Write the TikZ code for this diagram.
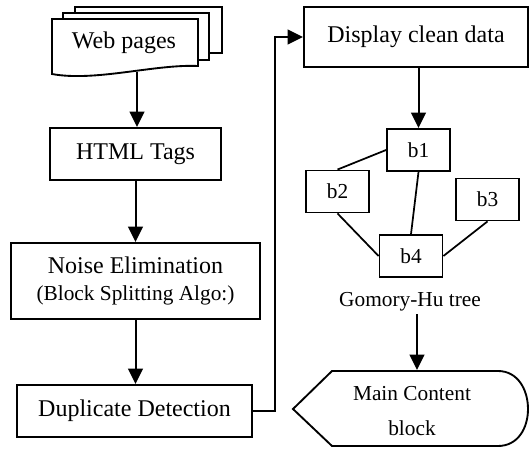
\documentclass[tikz,border=0pt]{standalone}
\usepackage{fontspec}
\setmainfont{Liberation Serif}
\usetikzlibrary{arrows.meta}
\tikzset{
  boxnode/.style={draw, line width=1.4pt, inner sep=0pt, align=center, font=\fontsize{18}{21}\selectfont},
  bnode/.style={draw, line width=1.4pt, inner sep=0pt, minimum width=47.25pt, minimum height=31.5pt, font=\fontsize{16}{19}\selectfont},
  arr/.style={line width=1.5pt, -{Triangle[length=11.5pt,width=11pt]}},
  edge/.style={line width=1.3pt},
  sheet/.style={draw, line width=1.4pt, fill=white},
}
\begin{document}
\begin{tikzpicture}[x=0.75pt,y=-0.75pt]
\useasboundingbox (0,0) rectangle (529,449);
% Web pages multi-document
\draw[sheet] (75,7) rectangle (222,53);
\draw[sheet] (63,13) rectangle (209,60);
\draw[sheet] (52,19) -- (198,19) -- (198,66) .. controls (155,64) and (95,82) .. (52,74) -- cycle;
\node[font=\fontsize{18}{21}\selectfont] (web) at (124,43) {Web pages};
\coordinate (webbot) at (137,72.5);
% left column
\node[boxnode, minimum width=128.25pt, minimum height=39pt] (html) at (135.5,154) {HTML Tags};
\node[boxnode, minimum width=186.75pt, minimum height=57pt] (noise) at (135.5,281)
  {Noise Elimination\\[-1pt]{\fontsize{16}{19}\selectfont (Block Splitting Algo:)}};
\node[boxnode, minimum width=176.25pt, minimum height=39pt] (dup) at (134.5,411) {Duplicate Detection};
% right column
\node[boxnode, minimum width=168pt, minimum height=45pt] (disp) at (416,37) {Display clean data};
\node[bnode] (b1) at (418.5,150) {b1};
\node[bnode] (b2) at (337.5,191.5) {b2};
\node[bnode] (b3) at (487.5,199.5) {b3};
\node[bnode] (b4) at (411,256) {b4};
\node[font=\fontsize{16}{19}\selectfont, inner sep=2pt] (gh) at (410,302) {Gomory-Hu tree};
% Main content display shape
\draw[line width=1.4pt] (293,409) -- (332,371) -- (498,371)
  .. controls (518,371) and (528,390) .. (528,409)
  .. controls (528,428) and (518,446) .. (498,446) -- (332,446) -- cycle;
\node[font=\fontsize{16}{26}\selectfont, align=center] (mc) at (412,411) {Main Content\\block};
\coordinate (mctop) at (417,370);
\coordinate (turn) at (275,411);
% connectors
\draw[arr] (webbot) -- (webbot |- html.north);
\draw[arr] (html.south -| noise.north) -- (noise.north);
\draw[arr] (noise.south) -- (noise.south |- dup.north);
\draw[arr] (dup.east) -- (turn) |- (disp.west);
\draw[arr] (b1.north |- disp.south) -- (b1.north);
\draw[edge] (b1.west) -- (b2.north);
\draw[edge] (b2.south) -- (b4.west);
\draw[edge] (b1.south) -- (b4.north);
\draw[edge] (b3.south) -- (b4.east);
\draw[arr] (gh.south -| mctop) -- (mctop);
\end{tikzpicture}
\end{document}
